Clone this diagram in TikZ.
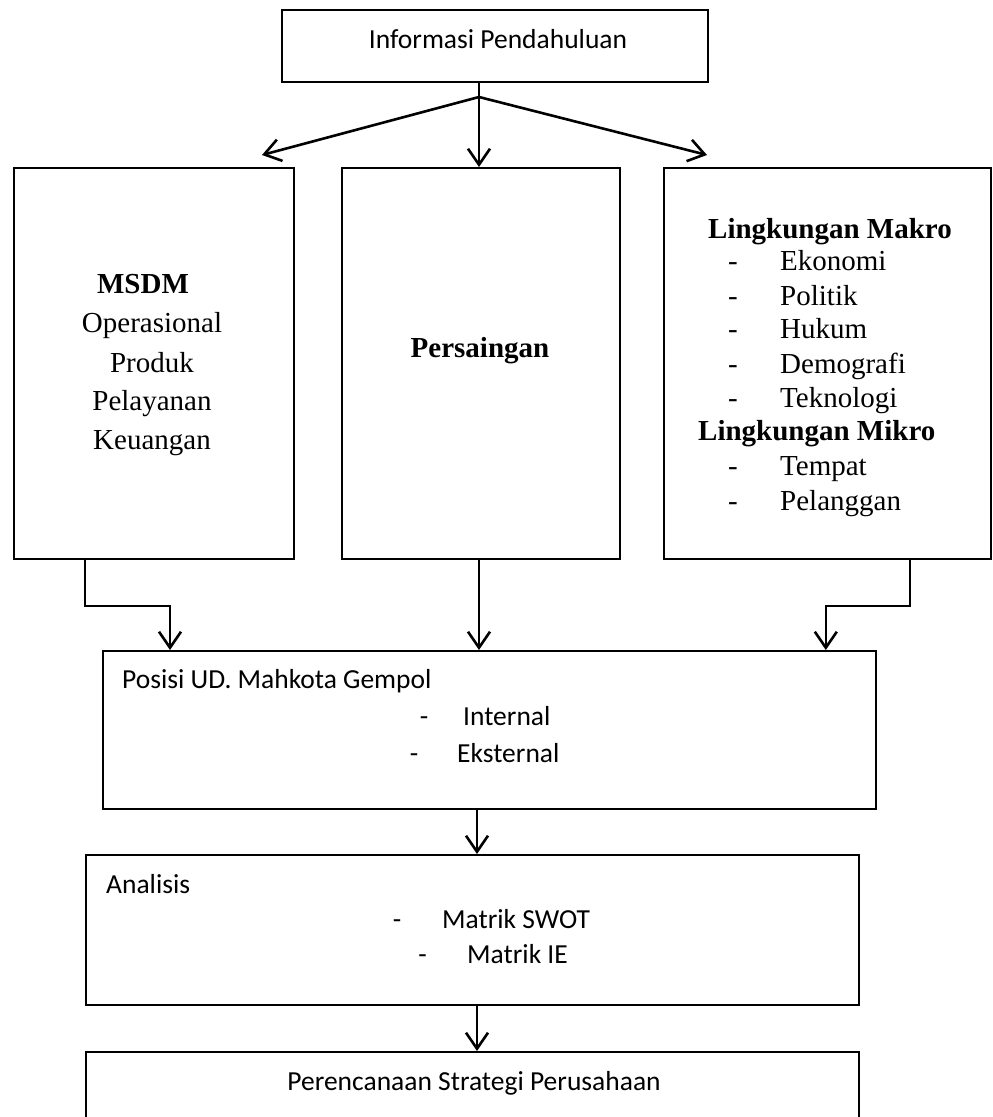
\documentclass[tikz,border=0pt]{standalone}
\usepackage{fontspec}
\setmainfont{Liberation Serif}
\newfontfamily\calfont{Carlito}
\usetikzlibrary{arrows.meta}

\tikzset{
  box/.style={draw=black, line width=1.8pt, inner sep=0pt, anchor=north west},
  arr/.style={line width=2.6pt, -{Straight Barb[length=16pt,width=22pt]}},
  conn/.style={line width=2.6pt},
  ctext/.style={inner sep=0pt, font=\calfont\fontsize{27.5}{33}\selectfont},
  stext/.style={inner sep=0pt, font=\fontsize{29}{34}\selectfont},
  btext/.style={inner sep=0pt, font=\fontsize{29}{34}\selectfont\bfseries},
}

\begin{document}
\begin{tikzpicture}[x=1pt,y=-1pt]
\useasboundingbox (0,0) rectangle (993,1117);
\clip (0,0) rectangle (993,1117);
\fill[white] (0,0) rectangle (993,1117);

% boxes
\node[box, minimum width=426pt, minimum height=72pt]  (info)   at (281,9)    {};
\node[box, minimum width=280pt, minimum height=391pt] (intern) at (13,167)   {};
\node[box, minimum width=278pt, minimum height=391pt] (comp)   at (341,167)  {};
\node[box, minimum width=327pt, minimum height=391pt] (ext)    at (663,167)  {};
\node[box, minimum width=773pt, minimum height=158pt] (pos)    at (102,650)  {};
\node[box, minimum width=773pt, minimum height=150pt] (anal)   at (85,854)   {};
\node[box, minimum width=773pt, minimum height=100pt] (plan)   at (85,1051)  {};

% top box text
\node[ctext, anchor=base] (tInfo) at (498,48) {Informasi Pendahuluan};

% internal factors
\node[btext, anchor=base] (tMsdm) at (143,293) {MSDM};
\node[stext, anchor=base] (tOps)  at (152,332) {Operasional};
\node[stext, anchor=base] (tProd) at (152,372) {Produk};
\node[stext, anchor=base] (tPel)  at (152,410) {Pelayanan};
\node[stext, anchor=base] (tKeu)  at (152,449) {Keuangan};

% competition
\node[btext, anchor=base] (tPers) at (480,357) {Persaingan};

% external factors
\node[btext, anchor=base west] (tMakro) at (708,238) {Lingkungan Makro};
\foreach \name/\y/\label in {a/270/Ekonomi, b/305/Politik, c/338/Hukum, d/373/Demografi, e/407/Teknologi, f/475/Tempat, g/510/Pelanggan}{
  \node[stext, anchor=base] (dash\name) at (733,\y) {-};
  \node[stext, anchor=base west] (item\name) at (780,\y) {\label};
}
\node[btext, anchor=base west] (tMikro) at (698,440) {Lingkungan Mikro};

% position box text
\node[ctext, anchor=base west] (tPos) at (122,688) {Posisi UD. Mahkota Gempol};
\node[ctext, anchor=base] (dPosA) at (424,725) {-};
\node[ctext, anchor=base west] (tIntl) at (463,725) {Internal};
\node[ctext, anchor=base] (dPosB) at (414,762) {-};
\node[ctext, anchor=base west] (tExtl) at (457,762) {Eksternal};

% analysis box text
\node[ctext, anchor=base west] (tAnal) at (106,893) {Analisis};
\node[ctext, anchor=base] (dAnA) at (397,928) {-};
\node[ctext, anchor=base west] (tSwot) at (442,928) {Matrik SWOT};
\node[ctext, anchor=base] (dAnB) at (422.5,963) {-};
\node[ctext, anchor=base west] (tIe) at (467,963) {Matrik IE};

% planning box text
\node[ctext, anchor=base] (tPlan) at (474,1090) {Perencanaan Strategi Perusahaan};

% connectors
\coordinate (fork) at (479,97);
\coordinate (tipL) at (262,155);
\coordinate (tipR) at (707,155);
\coordinate (mid)  at (477,0);

\draw[conn] (info.south -| fork) -- (fork);
\draw[arr] (fork) -- (tipL);
\draw[arr] (fork) -- (tipR);
\draw[arr] (fork) -- (comp.north -| fork);

\draw[arr] ([xshift=72pt]intern.south west) -- ++(0,46) -| ([xshift=68pt]pos.north west);
\draw[arr] (comp.south -| fork) -- (pos.north -| fork);
\draw[arr] ([xshift=247pt]ext.south west) -- ++(0,46) -| ([xshift=-51pt]pos.north east);

\draw[arr] (pos.south -| mid) -- (anal.north -| mid);
\draw[arr] (anal.south -| mid) -- (plan.north -| mid);
\end{tikzpicture}
\end{document}
